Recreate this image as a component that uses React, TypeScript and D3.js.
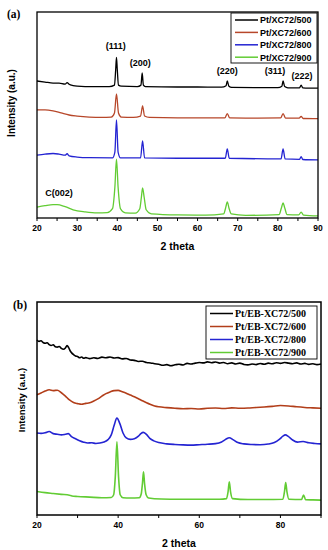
import React from 'react';
import * as d3 from 'd3';

// ---- data: [2 theta, intensity (a.u.)] ----

const seriesA = ['Pt/XC72/500', 'Pt/XC72/600', 'Pt/XC72/800', 'Pt/XC72/900'];
const seriesB = ['Pt/EB-XC72/500', 'Pt/EB-XC72/600', 'Pt/EB-XC72/800', 'Pt/EB-XC72/900'];

const colorsA = ['#000000', '#b7472a', '#2424d2', '#62cc34'];
const colorsB = ['#000000', '#b23e1a', '#2424d2', '#62cc34'];

const a500 = [[20, 66.5], [22, 66], [24, 65.5], [25.5, 65.5], [27, 65], [27.5, 65.7], [28, 64.9], [29, 64.3], [30, 64], [32, 63.8], [35, 63.8], [38, 63.8], [39.3, 64.5], [39.6, 72], [39.8, 78], [40.0, 72], [40.3, 64.5], [41, 64], [45, 63.8], [45.9, 64.5], [46.2, 70.4], [46.5, 64.5], [47, 63.8], [55, 63.6], [60, 63.6], [66, 63.5], [67.1, 64.2], [67.4, 66.5], [67.8, 64], [68.5, 63.4], [75, 63.3], [80, 63.3], [81.0, 64], [81.3, 66.5], [81.7, 63.8], [82.5, 63.2], [85.4, 63.2], [85.8, 64.5], [86.2, 63.2], [90, 63]];
const a600 = [[20, 52.5], [22, 52.5], [24, 52], [26, 51], [28, 50], [30, 49.5], [33, 49], [36, 48.8], [38.5, 49], [39.3, 51], [39.8, 60.2], [40.3, 51], [41, 49], [44, 48.8], [45.8, 49.5], [46.3, 54.4], [46.8, 49.5], [48, 48.8], [55, 48.6], [60, 48.6], [66.8, 48.6], [67.4, 50.7], [68, 48.6], [75, 48.5], [80.7, 48.6], [81.3, 50.7], [81.9, 48.5], [85.3, 48.5], [85.8, 49.3], [86.3, 48.3], [90, 48.2]];
const a800 = [[20, 30.5], [22, 31], [24, 31.3], [25.5, 31], [27, 30.5], [27.5, 31.2], [28, 30.2], [30, 29.6], [33, 29.3], [38.8, 29.2], [39.4, 32], [39.8, 47.6], [40.2, 32], [40.8, 29.2], [45.8, 29.2], [46.3, 37.4], [46.8, 29.2], [55, 29], [66.9, 29], [67.4, 33.5], [67.9, 29], [80.8, 28.7], [81.3, 33.5], [81.8, 28.7], [85.4, 28.5], [85.8, 29.8], [86.2, 28.4], [90, 28.2]];
const a900 = [[20, 5.3], [22, 6], [24, 6.5], [25, 6.5], [27, 5.5], [29, 4], [32, 3], [35, 2.5], [37.5, 2.6], [38.8, 4.5], [39.4, 15], [39.8, 28.6], [40.2, 15], [40.8, 4.5], [42, 2.5], [44.5, 2.4], [45.6, 4.5], [46.0, 10], [46.3, 14.6], [46.7, 10], [47.2, 4], [48.5, 2], [55, 1.5], [62, 1.4], [66.5, 2], [67.0, 5], [67.4, 7.8], [67.8, 5], [68.4, 2], [72, 1.3], [80.3, 1.6], [80.9, 5], [81.3, 7.3], [81.7, 5], [82.3, 1.6], [85.2, 1.5], [85.8, 2.9], [86.4, 1.4], [90, 1]];

const b500 = [[20, 82.2], [20.5, 81.5], [21, 81.8], [21.5, 81], [22, 80.6], [22.5, 80.9], [23, 80], [23.5, 79.6], [24, 79.9], [24.5, 79], [25, 78.8], [25.5, 79.1], [26, 78.2], [26.5, 77.8], [27, 78.4], [27.4, 79.5], [27.8, 78.6], [28.2, 77], [28.6, 76], [29, 75.3], [29.5, 74.6], [30, 74.4], [30.5, 73.8], [31, 74.2], [31.5, 73.6], [32, 73.9], [33, 73.4], [34, 73.8], [35, 73.5], [36, 74.1], [37, 73.8], [38, 74.2], [39, 73.7], [40, 73.9], [41, 73.3], [42, 73.5], [43, 72.8], [44, 72.6], [45, 72.1], [46, 72.2], [47, 71.6], [48, 71.4], [49, 71.0], [50, 70.8], [51, 70.3], [52, 70.6], [53, 70.1], [54, 70.5], [55, 70.8], [56, 70.4], [57, 71.2], [58, 70.9], [59, 71.3], [60, 71.6], [61, 71.4], [62, 71.9], [63, 71.5], [64, 71.8], [65, 71.3], [66, 71.6], [67, 71.0], [68, 71.4], [69, 70.9], [70, 71.3], [71, 70.7], [72, 70.5], [73, 70.9], [74, 70.6], [75, 71.1], [76, 70.8], [77, 71.3], [78, 71.0], [79, 71.5], [80, 71.2], [81, 71.6], [82, 71.3], [83, 71.0], [84, 71.4], [85, 70.9], [86, 71.2], [87, 70.7], [88, 71.0], [89, 70.6], [90, 70.9]];
const b600 = [[20, 56.5], [21, 57.3], [22, 58.2], [23, 58.8], [24, 58.4], [25, 58.6], [26, 57.4], [27, 55.8], [28, 54.0], [29, 52.8], [30, 52.3], [31, 52.0], [32, 52.4], [33, 52.7], [34, 53.5], [35, 54.5], [36, 55.8], [37, 57.0], [38, 57.8], [39, 58.4], [40, 58.5], [41, 57.9], [42, 57.2], [43, 56.3], [44, 55.5], [45, 54.6], [46, 53.6], [47, 52.7], [48, 51.9], [49, 51.2], [50, 50.8], [52, 50.4], [54, 50.1], [56, 49.9], [58, 50.0], [60, 49.8], [62, 50.1], [64, 50.2], [66, 50.0], [68, 50.3], [70, 50.1], [72, 50.2], [74, 50.5], [76, 50.7], [78, 51.0], [80, 51.4], [82, 51.2], [84, 50.8], [86, 50.5], [88, 50.3], [90, 50.1]];
const b800 = [[20, 38.5], [21, 38.3], [22, 38.6], [23, 39.2], [24, 38.2], [25, 37.9], [26, 37.6], [27, 37.9], [27.7, 38.2], [28.5, 36.8], [29.5, 35.8], [30.5, 34.9], [31.5, 34.2], [32.5, 33.8], [33.5, 33.9], [34.5, 33.6], [35.5, 33.8], [36.5, 34.3], [37.5, 35.4], [38.3, 37.6], [39.0, 42.0], [39.7, 45.5], [40.4, 43.0], [41.2, 38.5], [42.0, 36.2], [43.0, 35.5], [44.0, 35.8], [45.0, 37.0], [45.6, 38.2], [46.2, 38.8], [46.9, 38.0], [47.8, 36.0], [48.8, 34.8], [50, 34.0], [52, 33.4], [54, 33.1], [56, 32.9], [58, 32.8], [60, 33.0], [62, 33.2], [64, 33.5], [65.5, 34.3], [66.5, 35.5], [67.4, 36.3], [68.3, 35.4], [69.5, 34.0], [71, 33.4], [73, 33.1], [75, 33.0], [77, 33.3], [78.5, 34.0], [79.8, 35.6], [80.6, 37.0], [81.2, 37.6], [82, 36.8], [83, 35.2], [84.2, 34.2], [85.6, 34.5], [87, 33.9], [88.5, 33.6], [90, 33.4]];
const b900 = [[20, 11], [22, 10.5], [24, 10.1], [26, 9.7], [28, 9.3], [28.6, 8.9], [30, 8.7], [33, 8.4], [36, 8.1], [38.3, 8.2], [38.9, 9.5], [39.3, 18], [39.7, 34.4], [40.1, 18], [40.5, 9.5], [41.2, 8.1], [43, 8.0], [45.2, 8.1], [45.7, 10], [46.0, 15], [46.25, 20.3], [46.5, 15], [46.9, 9.5], [47.5, 8.0], [50.6, 7.5], [55, 7.4], [60, 7.4], [65, 7.4], [66.7, 7.7], [67.1, 11], [67.4, 15.6], [67.7, 11], [68.2, 7.7], [72, 7.3], [76, 7.3], [80.6, 7.4], [81.0, 11], [81.3, 15.2], [81.6, 11], [82.1, 7.4], [85.2, 7.3], [85.7, 9.4], [86.2, 7.2], [88, 7.1], [90, 7.0]];

// peak annotations for panel (a): label, 2 theta, intensity of the label
const peakLabels = [['(111)', 39.6, 82], ['(200)', 45.7, 74], ['(220)', 67.4, 70], ['(311)', 79.3, 70], ['(222)', 86, 67.5], ['C(002)', 25.5, 10.8]];

const ticksA = [20, 30, 40, 50, 60, 70, 80, 90];
const minorA = [25, 35, 45, 55, 65, 75, 85];
const ticksB = [20, 40, 60, 80];
const minorB = [30, 50, 70, 90];

const sans = '"Liberation Sans", Arial, sans-serif';
const serif = '"Liberation Serif", "Times New Roman", serif';

function Panel({left, right, top, bottom, series, names, colors, lineWidth, ticks, minor, tag, tagX, tagY, legend, legendFont, yLabelX, yLabelY, yLabelSize, frameWidth, children}) {

    const scaleX = d3.scaleLinear().domain([20, 90]).range([left, right]);
    const scaleY = d3.scaleLinear().domain([0, 100]).range([bottom, top]);

    const line = d3.line()
                   .x((d) => scaleX(d[0]))
                   .y((d) => scaleY(d[1]))
                   .curve(d3.curveMonotoneX);

    return (
        <g>
            {series.map((s, i) =>
                <path key={`Line_${i}`} d={line(s)} fill='none' stroke={colors[i]} strokeWidth={lineWidth} strokeLinejoin='round' />
            )}
            {children && children(scaleX, scaleY)}
            <rect x={left} y={top} width={right - left} height={bottom - top} fill='none' stroke='#000' strokeWidth={frameWidth} />
            {ticks.concat(minor).map((v, i) =>
                <line key={`Tick_${i}`} x1={scaleX(v)} x2={scaleX(v)} y1={bottom} y2={bottom + 3} stroke='#000' strokeWidth={1} />
            )}
            {ticks.map((v, i) =>
                <text key={`TickLabel_${i}`} x={scaleX(v)} y={bottom + 13} textAnchor='middle' fontFamily={sans} fontWeight='bold' fontSize={8.5}>{v}</text>
            )}
            <text x={(left + right) / 2} y={bottom + 32} textAnchor='middle' fontFamily={sans} fontWeight='bold' fontSize={10.5}>2 theta</text>
            <text transform={`translate(${yLabelX}, ${yLabelY}) rotate(-90)`} textAnchor='middle' fontFamily={sans} fontWeight='bold' fontSize={yLabelSize}>Intensity (a.u.)</text>
            <text x={tagX} y={tagY} fontFamily={serif} fontWeight='bold' fontSize={11.5}>{tag}</text>
            <rect x={legend.x} y={legend.y} width={legend.w} height={legend.h} fill='#fff' stroke='#000' strokeWidth={0.9} />
            {names.map((n, i) => {
                const ry = legend.y + legend.first + i * legend.step;
                return (
                    <g key={`Legend_${i}`}>
                        <line x1={legend.x + 4} x2={legend.x + 27} y1={ry} y2={ry} stroke={colors[i]} strokeWidth={1.5} />
                        <text x={legend.x + 29} y={ry + 3.3} fontFamily={legendFont} fontWeight='bold' fontSize={legend.font}>{n}</text>
                    </g>
                );
            })}
        </g>
    );
}

export default function App() {
    return (
        <svg width={328} height={550} xmlns="http://www.w3.org/2000/svg" style={{position: 'absolute', left: 0, top: 0, background: '#fff'}}>
            <Panel left={37} right={318} top={12} bottom={218}
                   series={[a500, a600, a800, a900]} names={seriesA} colors={colorsA} lineWidth={1.3}
                   ticks={ticksA} minor={minorA} tag='(a)' tagX={7} tagY={18}
                   legend={{x: 231, y: 13, w: 86, h: 50, first: 7, step: 12.4, font: 9}} legendFont={sans}
                   yLabelX={15} yLabelY={103} yLabelSize={10} frameWidth={1.3}>
                {(sx, sy) => peakLabels.map((p, i) =>
                    <text key={`Peak_${i}`} x={sx(p[1])} y={sy(p[2])} textAnchor='middle' fontFamily={sans} fontWeight='bold' fontSize={9}>{p[0]}</text>
                )}
            </Panel>
            <Panel left={37} right={321} top={302} bottom={515}
                   series={[b500, b600, b800, b900]} names={seriesB} colors={colorsB} lineWidth={1.6}
                   ticks={ticksB} minor={minorB} tag='(b)' tagX={13} tagY={309}
                   legend={{x: 206, y: 306, w: 111, h: 53, first: 7.5, step: 13, font: 10}} legendFont={serif}
                   yLabelX={25} yLabelY={400} yLabelSize={9.5} frameWidth={1.5} />
        </svg>
    );
}
